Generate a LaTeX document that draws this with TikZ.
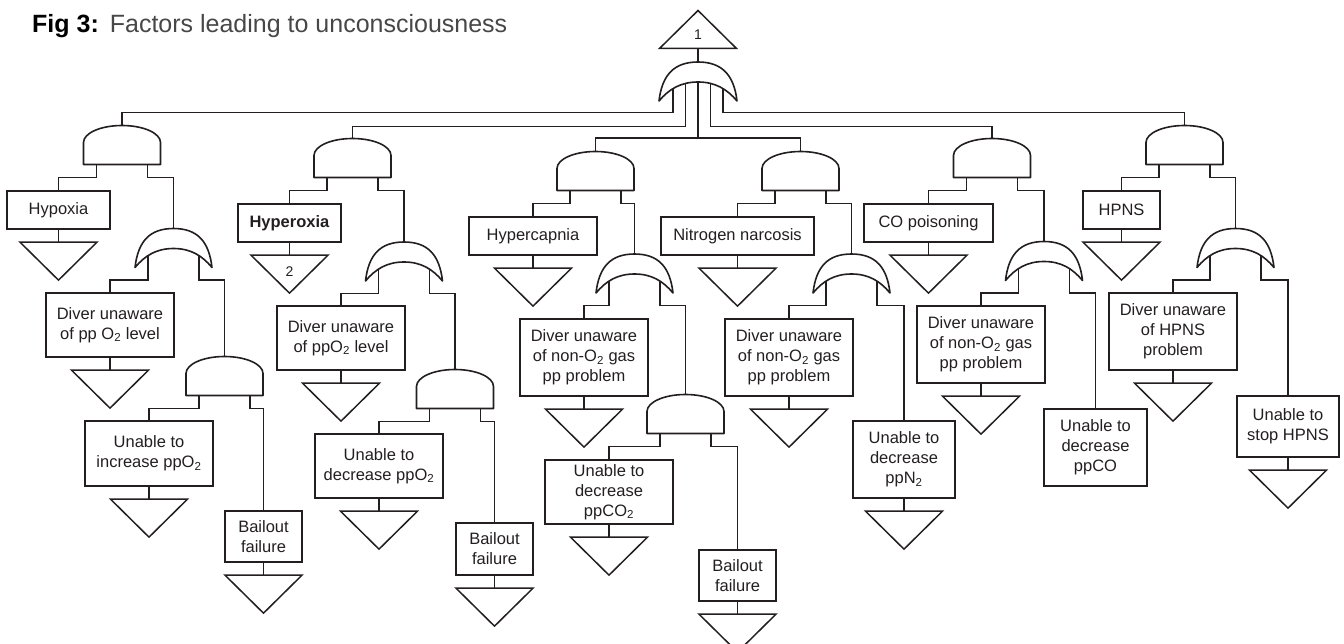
\documentclass[tikz,border=0pt]{standalone}
\usepackage{fontspec}
\setmainfont{Liberation Sans}
\usetikzlibrary{calc}
\definecolor{ink}{HTML}{231F20}
\newcommand\lowtwo{\textsubscript{2}}
\begin{document}
\begin{tikzpicture}[x=1pt,y=-1pt,
  wire/.style={draw=ink, line width=1.3pt},
  box/.style={draw=ink, line width=2.3pt, rectangle, inner sep=0pt, align=center,
              text=ink, font=\fontsize{16.5}{20}\selectfont},
  frame/.style={rectangle, inner sep=0pt, outer sep=0pt, minimum width=77pt, minimum height=39pt},
  tri/.style={frame, minimum height=38pt},
  gateline/.style={draw=ink, fill=white, line width=1.6pt, line join=round},
  triline/.style={draw=ink, line width=1.5pt},
]
\useasboundingbox (0,0) rectangle (1344,644);

% title
\node[anchor=base west, inner sep=0pt, font=\fontsize{25}{30}\selectfont] (title) at (32,33)
  {\textbf{Fig 3:}\hspace{11pt}\textcolor{black!72}{Factors leading to unconsciousness}};

% top event and its OR gate
\node[tri] (t0) at (698,29.5) {};
\node[frame, minimum width=78pt] (or0) at (698,81.5) {};

% AND gates
\node[frame] (g1)  at (122,145) {};
\node[frame] (g2)  at (352.5,158) {};
\node[frame] (g3)  at (595.5,171) {};
\node[frame] (g4)  at (800.5,171) {};
\node[frame] (g5)  at (992,158) {};
\node[frame] (g6)  at (1184.5,145) {};
\node[frame] (g1b) at (224.5,376) {};
\node[frame] (g2b) at (455,389) {};
\node[frame] (g3b) at (685.5,414) {};

% OR gates
\node[frame] (or1) at (173.5,248) {};
\node[frame] (or2) at (404,261.5) {};
\node[frame] (or3) at (634.5,273.5) {};
\node[frame] (or4) at (851.5,273.5) {};
\node[frame] (or5) at (1044,261) {};
\node[frame] (or6) at (1235.5,248) {};

% events
\node[box, minimum width=103pt, minimum height=38pt] (b1) at (58.5,210) {Hypoxia};
\node[box, minimum width=128pt, minimum height=64pt] (b2) at (110,325) {Diver unaware\\of pp O\lowtwo{} level};
\node[box, minimum width=128pt, minimum height=65pt] (b3) at (149,453.5) {Unable to\\increase ppO\lowtwo};
\node[box, minimum width=77pt, minimum height=51pt] (b4) at (263.5,536.5) {Bailout\\failure};
\node[box, minimum width=103pt, minimum height=38pt] (b5) at (289.5,223) {\textbf{Hyperoxia}};
\node[box, minimum width=128pt, minimum height=64pt] (b6) at (341,338) {Diver unaware\\of ppO\lowtwo{} level};
\node[box, minimum width=128pt, minimum height=64pt] (b7) at (379,466) {Unable to\\decrease ppO\lowtwo};
\node[box, minimum width=77pt, minimum height=52pt] (b8) at (494.5,549) {Bailout\\failure};
\node[box, minimum width=128pt, minimum height=38pt] (b9) at (533,236) {Hypercapnia};
\node[box, minimum width=128pt, minimum height=77pt] (b10) at (584,357.5) {Diver unaware\\of non-O\lowtwo{} gas\\pp problem};
\node[box, minimum width=128pt, minimum height=64pt] (b11) at (609,492) {Unable to\\decrease\\ppCO\lowtwo};
\node[box, minimum width=77pt, minimum height=51pt] (b12) at (737.5,575.5) {Bailout\\failure};
\node[box, minimum width=153pt, minimum height=38pt] (b13) at (737.5,236) {Nitrogen narcosis};
\node[box, minimum width=128pt, minimum height=77pt] (b14) at (789,357.5) {Diver unaware\\of non-O\lowtwo{} gas\\pp problem};
\node[box, minimum width=102pt, minimum height=77pt] (b15) at (904,459.5) {Unable to\\decrease\\ppN\lowtwo};
\node[box, minimum width=129pt, minimum height=38pt] (b16) at (928.5,223) {CO poisoning};
\node[box, minimum width=128pt, minimum height=77pt] (b17) at (981,344.5) {Diver unaware\\of non-O\lowtwo{} gas\\pp problem};
\node[box, minimum width=103pt, minimum height=77pt] (b18) at (1095.5,447.5) {Unable to\\decrease\\ppCO};
\node[box, minimum width=77pt, minimum height=38pt] (b19) at (1121.5,210) {HPNS};
\node[box, minimum width=128pt, minimum height=77pt] (b20) at (1173,331.5) {Diver unaware\\of HPNS\\problem};
\node[box, minimum width=102pt, minimum height=61pt] (b21) at (1288,426.5) {Unable to\\stop HPNS};

% transfer triangles under the events
\foreach \b/\t in {b1/t1,b2/t2,b3/t3,b4/t4,b5/t5,b6/t6,b7/t7,b8/t8,b9/t9,b10/t10,
                   b11/t11,b12/t12,b13/t13,b14/t14,b15/t15,b16/t16,b17/t17,
                   b19/t19,b20/t20,b21/t21}
  \node[tri] (\t) at ($(\b.south)+(0,31)$) {};

% connectors: top OR gate to the six AND gates
\draw[wire] (t0.south) -- (or0.north);
\draw[wire] ([xshift=-25pt]or0.center) |- ([yshift=13pt]g1.north) -- (g1.north);
\draw[wire] ([xshift=-12.5pt]or0.center) |- ([yshift=12pt]g2.north) -- (g2.north);
\draw[wire] (or0.center) |- ([yshift=13.5pt]g3.north) -- (g3.north);
\draw[wire] (or0.center) |- ([yshift=13.5pt]g4.north) -- (g4.north);
\draw[wire] ([xshift=12.5pt]or0.center) |- ([yshift=12pt]g5.north) -- (g5.north);
\draw[wire] ([xshift=25pt]or0.center) |- ([yshift=13pt]g6.north) -- (g6.north);

% connectors: AND gate inputs
\foreach \g/\l/\r in {g1/b1/or1, g2/b5/or2, g3/b9/or3, g4/b13/or4, g5/b16/or5,
                      g6/b19/or6, g1b/b3/b4, g2b/b7/b8, g3b/b11/b12} {
  \draw[wire] ([xshift=-25.5pt]\g.south) -- ++(0,13) -| (\l.north);
  \draw[wire] ([xshift=25.5pt]\g.south) -- ++(0,13) -| (\r.north);
}

% connectors: OR gate inputs
\foreach \o/\l/\r in {or1/b2/g1b, or2/b6/g2b, or3/b10/g3b, or4/b14/b15,
                      or5/b17/b18, or6/b20/b21} {
  \draw[wire] ([xshift=-25.5pt]\o.center) -- ++(0,32) -| (\l.north);
  \draw[wire] ([xshift=25.5pt]\o.center) -- ++(0,32) -| (\r.north);
}

% connectors: events to transfer triangles
\foreach \b/\t in {b1/t1,b2/t2,b3/t3,b4/t4,b5/t5,b6/t6,b7/t7,b8/t8,b9/t9,b10/t10,
                   b11/t11,b12/t12,b13/t13,b14/t14,b15/t15,b16/t16,b17/t17,
                   b19/t19,b20/t20,b21/t21}
  \draw[wire] (\b.south) -- (\t.north);

% AND gate symbols
\foreach \g in {g1,g2,g3,g4,g5,g6,g1b,g2b,g3b}
  \draw[gateline] (\g.south west) -- ++(0,-22)
    arc[start angle=180, end angle=0, x radius=38.5pt, y radius=17pt]
    -- (\g.south east) -- cycle;

% OR gate symbols
\foreach \o in {or0,or1,or2,or3,or4,or5,or6}
  \draw[gateline] (\o.south west) .. controls +(3,-26) and +(-24,0) .. (\o.north)
    .. controls +(24,0) and +(-3,-26) .. (\o.south east)
    .. controls +(-10,-12) and +(17,0) .. ([yshift=-20pt]\o.north)
    .. controls +(-17,0) and +(10,-12) .. (\o.south west) -- cycle;

% triangle symbols
\draw[triline] (t0.south west) -- (t0.south east) -- (t0.north) -- cycle;
\foreach \t in {t1,t2,t3,t4,t5,t6,t7,t8,t9,t10,t11,t12,t13,t14,t15,t16,t17,t19,t20,t21}
  \draw[triline] (\t.north west) -- (\t.north east) -- (\t.south) -- cycle;

\node[text=ink, font=\fontsize{14}{14}\selectfont] (n1) at ([yshift=-5pt]t0.center) {1};
\node[text=ink, font=\fontsize{14}{14}\selectfont] (n2) at ([yshift=3pt]t5.center) {2};
\end{tikzpicture}
\end{document}
